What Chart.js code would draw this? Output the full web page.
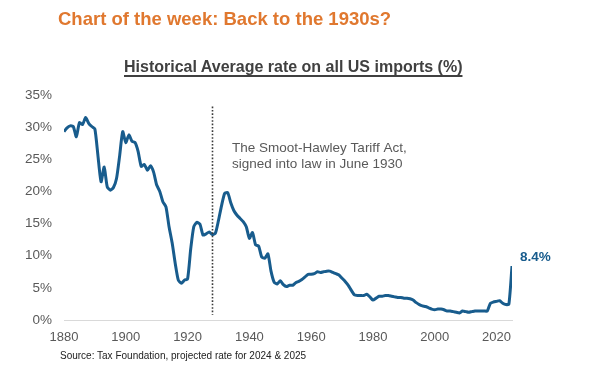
<!DOCTYPE html>
<html>
<head>
<meta charset="utf-8">
<script src="https://cdn.jsdelivr.net/npm/chart.js@4.4.1/dist/chart.umd.min.js"></script>
<style>
    body { margin: 0; background: #fff; font-family: "Liberation Sans", Arial, sans-serif; }
    #wrap { position: relative; width: 600px; height: 366px; overflow: hidden; }
    #rates-chart { position: absolute; left: 0; top: 0; }
    .title { position: absolute; left: 58px; top: 8px; font-size: 18.5px; line-height: 22px; font-weight: bold; color: #E0782F; white-space: nowrap; }
    .subtitle { position: absolute; left: 124px; top: 57px; font-size: 16px; line-height: 20px; font-weight: bold; color: #404040; white-space: nowrap;
        text-decoration: underline; text-underline-offset: 3px; text-decoration-thickness: 1.5px; }
    .source { position: absolute; left: 60px; top: 350px; font-size: 10px; line-height: 12px; color: #222; white-space: nowrap; }
</style>
</head>
<body>
<div id="wrap">
    <canvas id="rates-chart" width="600" height="366"></canvas>
    <div class="title">Chart of the week: Back to the 1930s?</div>
    <div class="subtitle">Historical Average rate on all US imports (%)</div>
    <div class="source">Source: Tax Foundation, projected rate for 2024 &amp; 2025</div>
</div>
<script>
// average tariff rate (%), one value per year from 1880 to 2025
var firstYear = 1880;
var rates = [
    29.3, 29.9, 30.2, 30.1, 28.5, 30.7, 30.4, 31.5, 30.6, 30.1,   // 1880s
    29.7, 25.5, 21.5, 23.8, 20.7, 20.2, 20.6, 22.0, 25.5, 29.3,   // 1890s
    27.6, 28.8, 27.8, 27.6, 26.2, 23.9, 24.2, 23.3, 24.0, 23.0,   // 1900s
    21.0, 20.0, 18.4, 17.6, 14.5, 12.0, 8.8, 6.2, 5.7, 6.2,       // 1910s
    6.4, 11.0, 14.5, 15.2, 14.9, 13.2, 13.4, 13.7, 13.3, 13.5,    // 1920s
    15.5, 17.8, 19.7, 19.8, 18.2, 17.0, 16.3, 15.8, 15.3, 14.5,   // 1930s
    12.7, 13.6, 11.7, 11.5, 9.8, 9.6, 10.3, 7.6, 5.9, 5.6,        // 1940s
    6.1, 5.5, 5.2, 5.4, 5.4, 5.8, 6.0, 6.3, 6.7, 7.1,             // 1950s
    7.1, 7.2, 7.5, 7.4, 7.5, 7.6, 7.6, 7.4, 7.2, 7.0,             // 1960s
    6.5, 6.0, 5.4, 4.6, 3.9, 3.8, 3.8, 3.8, 4.0, 3.6,             // 1970s
    3.1, 3.4, 3.7, 3.7, 3.8, 3.8, 3.7, 3.6, 3.5, 3.5,             // 1980s
    3.4, 3.4, 3.3, 3.1, 2.7, 2.4, 2.2, 2.1, 1.9, 1.7,             // 1990s
    1.6, 1.7, 1.7, 1.6, 1.4, 1.4, 1.3, 1.2, 1.1, 1.4,             // 2000s
    1.3, 1.2, 1.3, 1.4, 1.4, 1.4, 1.4, 1.4, 2.6, 2.8,             // 2010s
    2.9, 3.0, 2.6, 2.4, 2.5, 8.4                                  // 2020s
];
var yearTicks = [1880, 1900, 1920, 1940, 1960, 1980, 2000, 2020];
var smootHawleyYear = 1928;
var noteLines = ["The Smoot-Hawley Tariff Act,", "signed into law in June 1930"];

var blue = "#185C8D";
var grey = "#595959";
var font = "'Liberation Sans', Arial, sans-serif";

function buildPoints() {
    var pts = [];
    for (var i = 0; i < rates.length; i++) {
        pts.push({ x: firstYear + i, y: rates[i] });
    }
    return pts;
}

// dotted marker, note text and last value label
var annotations = {
    id: "annotations",
    afterDatasetsDraw: function (chart) {
        var ctx = chart.ctx;
        var xs = chart.scales.x;
        var ys = chart.scales.y;
        var lx = Math.round(xs.getPixelForValue(smootHawleyYear)) + 0.5;

        ctx.save();
        ctx.strokeStyle = "#3a3a3a";
        ctx.lineWidth = 1.6;
        ctx.setLineDash([1.6, 1.8]);
        ctx.beginPath();
        ctx.moveTo(lx, ys.getPixelForValue(33.2));
        ctx.lineTo(lx, ys.getPixelForValue(0.8));
        ctx.stroke();
        ctx.setLineDash([]);

        ctx.fillStyle = grey;
        ctx.font = "13.5px " + font;
        ctx.textBaseline = "middle";
        ctx.textAlign = "left";
        var tx = xs.getPixelForValue(1934.4);
        ctx.fillText(noteLines[0], tx, ys.getPixelForValue(26.75));
        ctx.fillText(noteLines[1], tx, ys.getPixelForValue(24.25));

        var last = rates.length - 1;
        ctx.fillStyle = blue;
        ctx.font = "bold 13.5px " + font;
        ctx.fillText(rates[last].toFixed(1) + "%", xs.getPixelForValue(firstYear + last) + 8,
            ys.getPixelForValue(rates[last]) - 9);
        ctx.restore();
    }
};

new Chart(document.getElementById("rates-chart"), {
    type: "line",
    data: {
        datasets: [{
            data: buildPoints(),
            borderColor: blue,
            borderWidth: 3,
            pointRadius: 0,
            tension: 0.2,
            fill: false
        }]
    },
    options: {
        responsive: false,
        animation: false,
        devicePixelRatio: 1,
        layout: { padding: { top: 95, right: 88, bottom: 16, left: 0 } },
        plugins: { legend: { display: false }, tooltip: { enabled: false } },
        scales: {
            x: {
                type: "linear",
                min: firstYear,
                max: firstYear + rates.length - 1,
                grid: { display: false },
                border: { display: true, color: "#D9D9D9", width: 1 },
                afterBuildTicks: function (scale) {
                    scale.ticks = yearTicks.map(function (v) { return { value: v }; });
                },
                ticks: {
                    color: grey,
                    font: { family: font, size: 13 },
                    padding: 2,
                    maxRotation: 0,
                    callback: function (v) { return String(v); }
                },
                afterFit: function (scale) { scale.height = 30; }
            },
            y: {
                min: 0,
                max: 35,
                grid: { display: false },
                border: { display: false },
                ticks: {
                    stepSize: 5,
                    color: grey,
                    font: { family: font, size: 13.5 },
                    padding: 4,
                    callback: function (v) { return v + "%"; }
                },
                afterFit: function (scale) { scale.width = 64; }
            }
        }
    },
    plugins: [annotations]
});
</script>
</body>
</html>
